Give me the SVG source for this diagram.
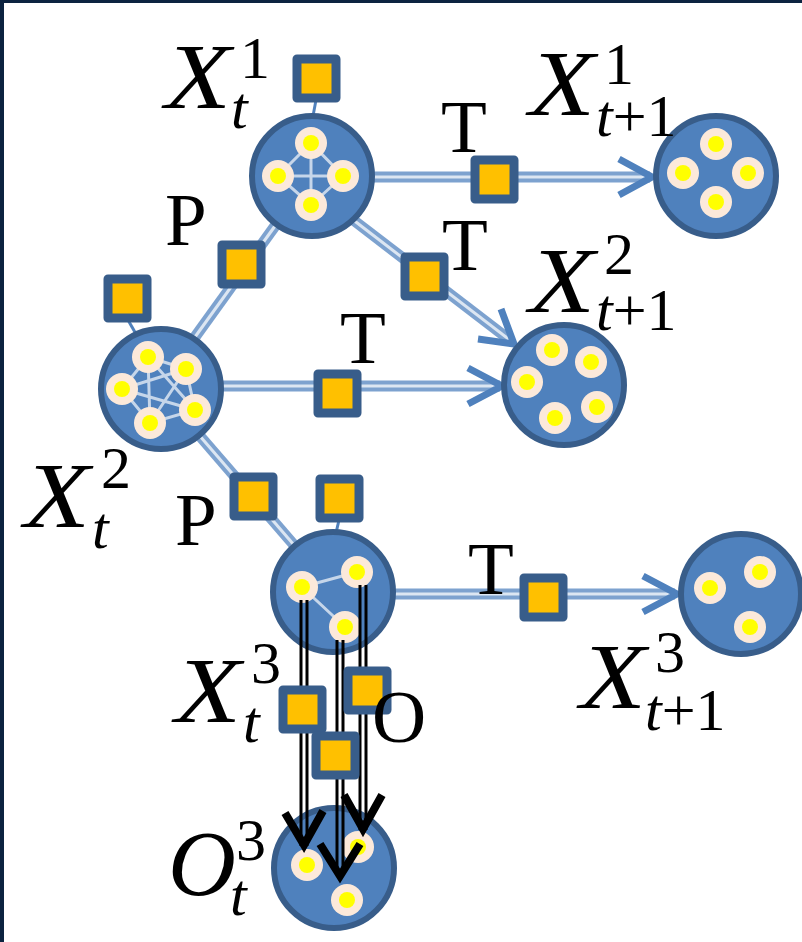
<svg xmlns="http://www.w3.org/2000/svg" width="802" height="942" viewBox="0 0 802 942">
<style>
.body{fill:#4f81bd;stroke:#385d8a;stroke-width:6}
.dO{fill:#fce9da}
.dI{fill:#ffff00}
.lk{stroke:#c6d6ea;stroke-width:3;fill:none}
.sq{fill:#ffc000;stroke:#385d8a;stroke-width:9;stroke-linejoin:round}
.tie{stroke:#4f81bd;stroke-width:3}
.dblA{stroke:#7da2cf;stroke-width:11;fill:none}
.dblB{stroke:#dce6f2;stroke-width:3;fill:none}
.ah{fill:none;stroke:#4f81bd;stroke-width:7}
.bl{stroke:#000;stroke-width:3}
.bah{fill:none;stroke:#000;stroke-width:8}
.lab{font-family:"Liberation Serif","Times New Roman",serif;fill:#000}
.big{font-size:94px;font-style:italic}
.sm{font-size:60px}
.it{font-style:italic}
.up{font-size:75px}
</style>
<rect x="0" y="0" width="802" height="942" fill="#ffffff"/>
<rect x="0" y="0" width="802" height="3" fill="#0c2340"/>
<rect x="0" y="0" width="4" height="942" fill="#0c2340"/>

<g id="connectors">
  <line class="dblA" x1="275" y1="226" x2="195" y2="337"/>
  <line class="dblB" x1="275" y1="226" x2="195" y2="337"/>
  <line class="dblA" x1="199" y1="435" x2="294" y2="545"/>
  <line class="dblB" x1="199" y1="435" x2="294" y2="545"/>
  <line class="dblA" x1="372" y1="177" x2="650" y2="177"/>
  <line class="dblB" x1="372" y1="177" x2="650" y2="177"/>
  <path class="ah" d="M619,159 L652,177 L619,195"/>
  <line class="dblA" x1="352" y1="219" x2="511" y2="341"/>
  <line class="dblB" x1="352" y1="219" x2="511" y2="341"/>
  <path class="ah" d="M478,339 L514,344 L501,309"/>
  <line class="dblA" x1="220" y1="386" x2="500" y2="386"/>
  <line class="dblB" x1="220" y1="386" x2="500" y2="386"/>
  <path class="ah" d="M468,368 L502,386 L468,404"/>
  <line class="dblA" x1="393" y1="594" x2="675" y2="594"/>
  <line class="dblB" x1="393" y1="594" x2="675" y2="594"/>
  <path class="ah" d="M643,576 L677,594 L643,612"/>
  <line class="tie" x1="316" y1="100" x2="313" y2="116"/>
  <line class="tie" x1="128" y1="320" x2="136" y2="334"/>
  <line class="tie" x1="339" y1="520" x2="336" y2="533"/>
</g>

<g id="X1t">
  <circle class="body" cx="312" cy="176" r="60"/>
  <path class="lk" d="M311,143 L311,205 M278,176 L343,176 M311,143 L278,176 L311,205 L343,176 Z"/>
  <circle class="dO" cx="311" cy="143" r="16"/><circle class="dI" cx="311" cy="143" r="8"/>
  <circle class="dO" cx="278" cy="176" r="16"/><circle class="dI" cx="278" cy="176" r="8"/>
  <circle class="dO" cx="343" cy="176" r="16"/><circle class="dI" cx="343" cy="176" r="8"/>
  <circle class="dO" cx="311" cy="205" r="16"/><circle class="dI" cx="311" cy="205" r="8"/>
</g>
<g id="X1t1">
  <circle class="body" cx="716" cy="176" r="60"/>
  <circle class="dO" cx="716" cy="144" r="16"/><circle class="dI" cx="716" cy="144" r="8"/>
  <circle class="dO" cx="683" cy="173" r="16"/><circle class="dI" cx="683" cy="173" r="8"/>
  <circle class="dO" cx="748" cy="173" r="16"/><circle class="dI" cx="748" cy="173" r="8"/>
  <circle class="dO" cx="716" cy="202" r="16"/><circle class="dI" cx="716" cy="202" r="8"/>
</g>
<g id="X2t">
  <circle class="body" cx="161" cy="389" r="60"/>
  <path class="lk" d="M148,357 L186,369 L195,410 L150,423 L122,389 Z M148,357 L150,423 M186,369 L122,389 M195,410 L148,357 M150,423 L186,369 M122,389 L195,410"/>
  <circle class="dO" cx="148" cy="357" r="16"/><circle class="dI" cx="148" cy="357" r="8"/>
  <circle class="dO" cx="186" cy="369" r="16"/><circle class="dI" cx="186" cy="369" r="8"/>
  <circle class="dO" cx="122" cy="389" r="16"/><circle class="dI" cx="122" cy="389" r="8"/>
  <circle class="dO" cx="195" cy="410" r="16"/><circle class="dI" cx="195" cy="410" r="8"/>
  <circle class="dO" cx="150" cy="423" r="16"/><circle class="dI" cx="150" cy="423" r="8"/>
</g>
<g id="X2t1">
  <circle class="body" cx="564" cy="385" r="60"/>
  <circle class="dO" cx="552" cy="350" r="16"/><circle class="dI" cx="552" cy="350" r="8"/>
  <circle class="dO" cx="591" cy="362" r="16"/><circle class="dI" cx="591" cy="362" r="8"/>
  <circle class="dO" cx="527" cy="382" r="16"/><circle class="dI" cx="527" cy="382" r="8"/>
  <circle class="dO" cx="597" cy="407" r="16"/><circle class="dI" cx="597" cy="407" r="8"/>
  <circle class="dO" cx="555" cy="418" r="16"/><circle class="dI" cx="555" cy="418" r="8"/>
</g>
<g id="X3t">
  <circle class="body" cx="333" cy="592" r="60"/>
  <path class="lk" d="M357,572 L302,587 L345,627"/>
  <circle class="dO" cx="302" cy="587" r="16"/><circle class="dI" cx="302" cy="587" r="8"/>
  <circle class="dO" cx="357" cy="572" r="16"/><circle class="dI" cx="357" cy="572" r="8"/>
  <circle class="dO" cx="345" cy="627" r="16"/><circle class="dI" cx="345" cy="627" r="8"/>
</g>
<g id="X3t1">
  <circle class="body" cx="741" cy="594" r="60"/>
  <circle class="dO" cx="710" cy="588" r="16"/><circle class="dI" cx="710" cy="588" r="8"/>
  <circle class="dO" cx="760" cy="572" r="16"/><circle class="dI" cx="760" cy="572" r="8"/>
  <circle class="dO" cx="750" cy="627" r="16"/><circle class="dI" cx="750" cy="627" r="8"/>
</g>
<g id="O3t">
  <circle class="body" cx="334" cy="868" r="60"/>
  <circle class="dO" cx="307" cy="865" r="16"/><circle class="dI" cx="307" cy="865" r="8"/>
  <circle class="dO" cx="358" cy="847" r="16"/><circle class="dI" cx="358" cy="847" r="8"/>
  <circle class="dO" cx="347" cy="900" r="16"/><circle class="dI" cx="347" cy="900" r="8"/>
</g>

<g id="obs-connectors">
  <line class="bl" x1="301" y1="600" x2="301" y2="846"/>
  <line class="bl" x1="307" y1="600" x2="307" y2="846"/>
  <line class="bl" x1="337" y1="640" x2="337" y2="875"/>
  <line class="bl" x1="343" y1="640" x2="343" y2="875"/>
  <line class="bl" x1="360" y1="585" x2="360" y2="830"/>
  <line class="bl" x1="366" y1="585" x2="366" y2="830"/>
</g>

<g id="sq-top1"><rect class="sq" x="297" y="59" width="39" height="39"/></g>
<g id="sq-P1"><rect class="sq" x="222" y="245" width="39" height="39"/></g>
<g id="sq-T1"><rect class="sq" x="475" y="160" width="39" height="39"/></g>
<g id="sq-T2"><rect class="sq" x="405" y="257" width="39" height="39"/></g>
<g id="sq-top2"><rect class="sq" x="108" y="279" width="39" height="39"/></g>
<g id="sq-T3"><rect class="sq" x="318" y="374" width="39" height="39"/></g>
<g id="sq-P2"><rect class="sq" x="234" y="477" width="39" height="39"/></g>
<g id="sq-top3"><rect class="sq" x="320" y="479" width="39" height="39"/></g>
<g id="sq-T4"><rect class="sq" x="524" y="578" width="39" height="39"/></g>
<g id="obs-arrowheads">
  <path class="bah" d="M285,813 L304,845 L323,811"/>
  <path class="bah" d="M344,795 L363,829 L382,795"/>
</g>
<g id="sq-O1"><rect class="sq" x="283" y="690" width="39" height="39"/></g>
<g id="sq-O2"><rect class="sq" x="348" y="671" width="39" height="39"/></g>
<g id="sq-O3"><rect class="sq" x="316" y="736" width="39" height="39"/></g>
<g id="obs-arrowhead-mid">
  <path class="bah" d="M320,844 L340,876 L360,844"/>
</g>

<g id="labels" class="lab">
  <text class="big" x="165" y="108" textLength="66" lengthAdjust="spacingAndGlyphs">X</text>
  <text class="sm" x="240" y="78">1</text>
  <text class="sm it" x="231" y="128">t</text>

  <text class="big" x="529" y="115" textLength="66" lengthAdjust="spacingAndGlyphs">X</text>
  <text class="sm" x="604" y="84">1</text>
  <text class="sm" x="596" y="136"><tspan class="it">t</tspan>+1</text>

  <text class="big" x="529" y="312" textLength="66" lengthAdjust="spacingAndGlyphs">X</text>
  <text class="sm" x="604" y="274">2</text>
  <text class="sm" x="596" y="330"><tspan class="it">t</tspan>+1</text>

  <text class="big" x="24" y="527" textLength="66" lengthAdjust="spacingAndGlyphs">X</text>
  <text class="sm" x="101" y="488">2</text>
  <text class="sm it" x="92" y="548">t</text>

  <text class="big" x="175" y="722" textLength="66" lengthAdjust="spacingAndGlyphs">X</text>
  <text class="sm" x="251" y="683">3</text>
  <text class="sm it" x="243" y="742">t</text>

  <text class="big" x="580" y="708" textLength="66" lengthAdjust="spacingAndGlyphs">X</text>
  <text class="sm" x="655" y="672">3</text>
  <text class="sm" x="645" y="730"><tspan class="it">t</tspan>+1</text>

  <text class="big" x="168" y="895">O</text>
  <text class="sm" x="236" y="860">3</text>
  <text class="sm it" x="230" y="915">t</text>

  <text class="up" x="441" y="152">T</text>
  <text class="up" x="442" y="270">T</text>
  <text class="up" x="340" y="363">T</text>
  <text class="up" x="468" y="594">T</text>
  <text class="up" x="165" y="245">P</text>
  <text class="up" x="175" y="545">P</text>
  <text class="up" x="372" y="742">O</text>
</g>
</svg>
